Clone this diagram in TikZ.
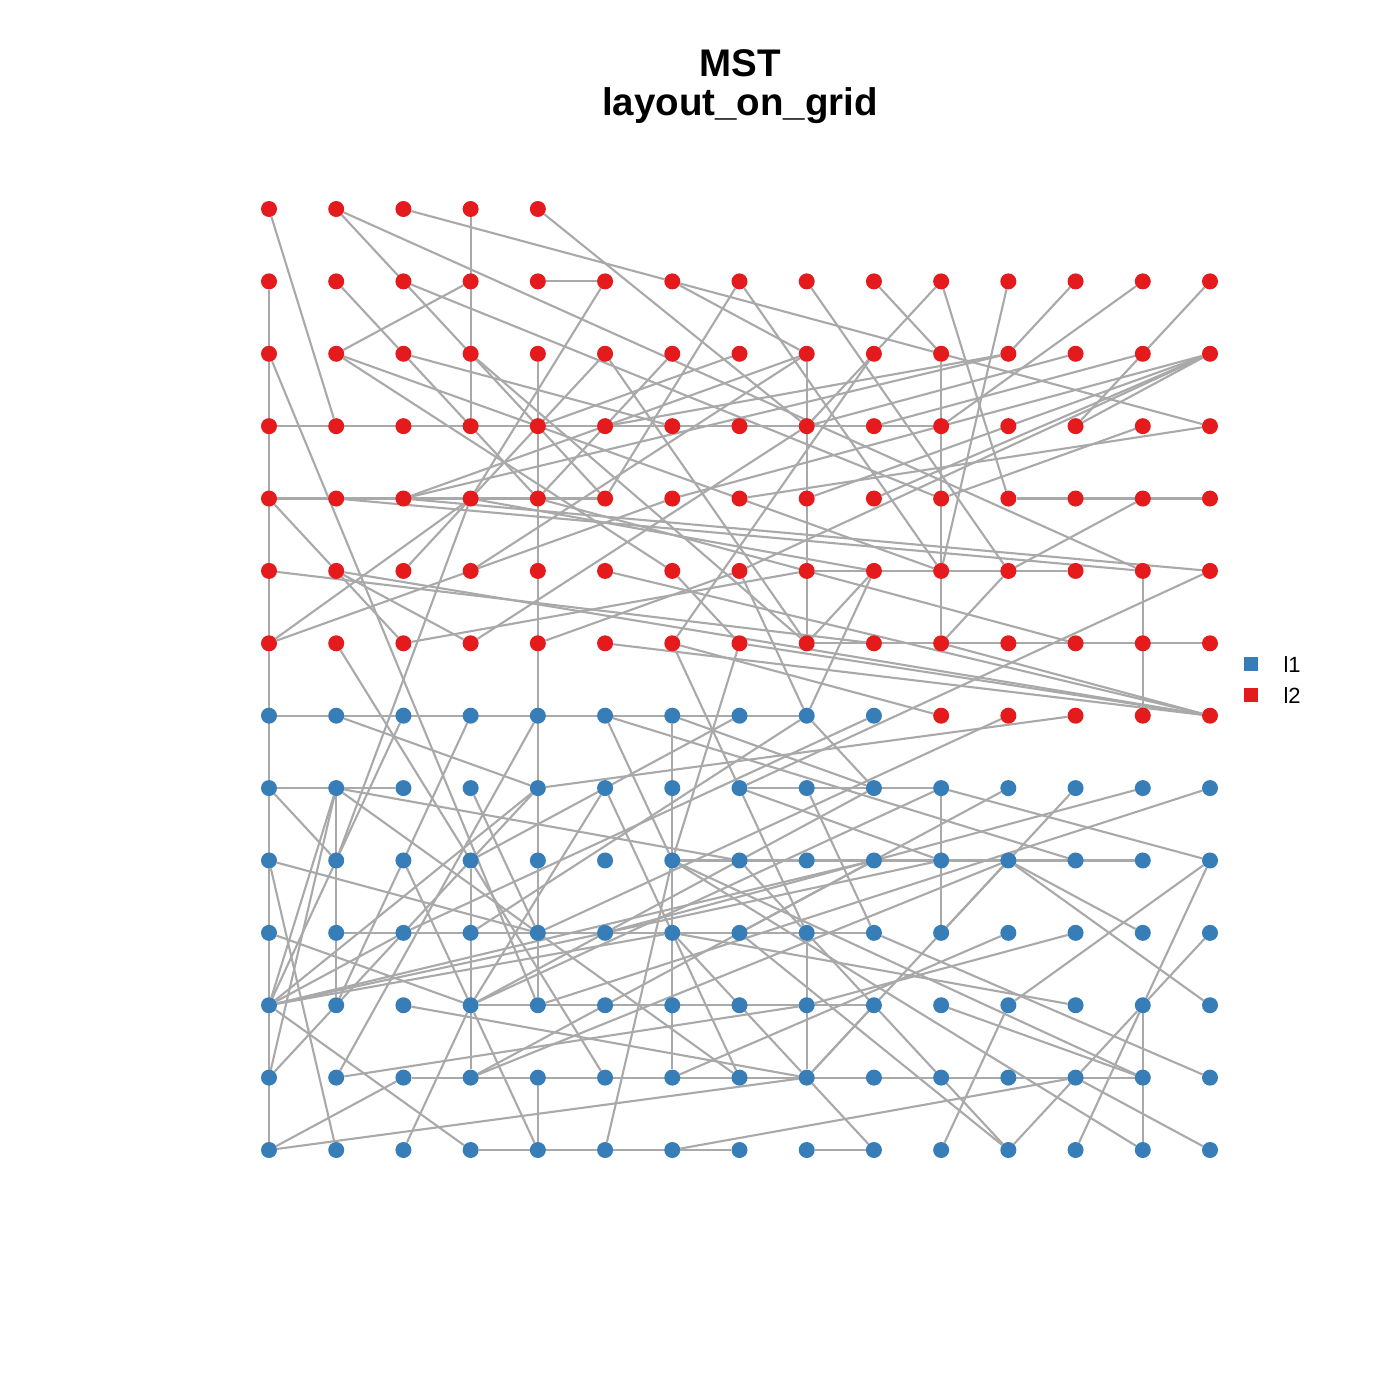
\documentclass[tikz,border=0pt]{standalone}
\usepackage{fontspec}
\setmainfont{Liberation Sans}
\definecolor{nred}{HTML}{E41A1C}
\definecolor{nblue}{HTML}{377EB8}
\definecolor{egray}{HTML}{A9A9A9}
\pgfdeclarelayer{bg}
\pgfdeclarelayer{edges}
\pgfsetlayers{bg,edges,main}
\tikzset{
  vred/.style={circle,fill=nred,draw=none,inner sep=0pt,minimum size=16pt},
  vblue/.style={circle,fill=nblue,draw=none,inner sep=0pt,minimum size=16pt},
  edge/.style={draw=egray,line width=2.1pt},
  ttl/.style={font=\bfseries\fontsize{38.5}{44}\selectfont,anchor=base},
  leg/.style={font=\fontsize{22}{26}\selectfont,anchor=west},
}
\begin{document}
\begin{tikzpicture}[x=1pt,y=-1pt]
\useasboundingbox (0,0) rectangle (1400,1400);
\begin{pgfonlayer}{bg}
\fill[white] (0,0) rectangle (1400,1400);
\end{pgfonlayer}
\node[ttl] (t1) at (740,76) {MST};
\node[ttl] (t2) at (740,115) {layout\_on\_grid};
% vertices
\foreach \c in {0,...,14}{
  \foreach \r in {0,...,13}{
    \pgfmathtruncatemacro\skipit{and(\r==0,\c>4)}
    \pgfmathtruncatemacro\isred{or(\r<7,and(\r==7,\c>9))}
    \pgfmathsetmacro\px{269+67.214*\c}
    \pgfmathsetmacro\py{209+72.385*\r}
    \ifnum\skipit=0
      \ifnum\isred=1
        \node[vred] (n\c-\r) at (\px,\py) {};
      \else
        \node[vblue] (n\c-\r) at (\px,\py) {};
      \fi
    \fi
  }
}
\begin{pgfonlayer}{edges}
% vertical runs: col/startrow/endrow
\foreach \c/\s/\e in {0/1/13, 3/0/3, 4/2/11, 4/12/13, 1/8/11, 3/9/12, 6/7/12, 8/2/6, 8/10/12, 10/2/6, 10/8/10, 13/5/7, 13/11/13}
  \draw[edge] (n\c-\s) -- (n\c-\e);
% horizontal runs: row/startcol/endcol
\foreach \r/\s/\e in {1/4/5, 3/0/10, 4/0/5, 4/11/14, 5/8/12, 6/8/14, 7/0/8, 8/0/2, 8/7/10, 9/6/13, 10/1/9, 11/3/9, 12/2/13, 13/3/7, 13/8/9}
  \draw[edge] (n\s-\r) -- (n\e-\r);
% other edges
\foreach \a/\b/\c/\d in {
0/0/1/3, 1/0/13/5, 1/0/5/4, 2/0/6/1, 6/1/14/3, 4/0/8/3, 1/1/2/2, 2/1/10/4, 3/1/1/2, 5/1/3/4, 6/1/8/2, 7/1/5/4, 7/1/10/5, 8/1/11/5, 9/1/10/2, 10/1/8/3, 10/1/11/4, 11/1/10/5, 12/1/11/2, 13/1/10/3, 14/1/12/3,
0/2/4/11, 1/2/10/5, 1/2/6/5, 2/2/6/3, 2/2/4/4, 5/2/8/6, 5/2/2/5, 6/2/4/4, 7/2/4/3, 9/2/6/6, 11/2/5/3, 12/2/8/3, 13/2/9/3, 14/2/12/3, 14/2/9/4, 14/2/8/4, 14/2/6/4, 14/2/7/5, 13/3/10/4,
1/4/13/5, 2/4/14/5, 2/4/8/2, 2/4/11/2, 3/4/0/6, 3/4/1/9, 3/4/9/5, 4/4/12/6, 6/4/0/6, 7/4/14/3, 13/4/11/5, 14/5/7/8,
0/4/1/5, 1/5/2/6, 1/5/3/6, 0/5/9/6, 1/5/14/7, 3/5/8/2, 2/6/8/5, 3/6/8/3, 4/6/7/5, 1/6/5/12, 6/5/7/6, 5/5/14/7, 5/6/14/7, 6/6/8/10, 7/6/6/9, 8/6/9/5, 3/2/8/6, 10/6/11/5, 6/6/10/7, 11/7/4/10, 12/7/4/8, 7/6/14/7, 10/6/14/7, 9/5/8/7,
1/7/4/8, 2/7/0/11, 1/12/4/7, 3/7/1/11, 0/8/1/9, 1/8/0/11, 1/8/0/12, 1/8/7/9, 1/8/7/12, 0/9/4/10, 2/9/3/11, 3/8/4/10, 0/11/4/8, 0/11/2/10, 0/11/6/10, 0/11/9/9, 0/11/10/9, 0/11/3/13, 0/12/4/8, 0/13/8/12, 0/13/2/12, 0/9/1/13, 2/13/3/11, 0/10/3/11, 1/12/8/11, 2/11/8/12, 4/13/3/11,
5/7/6/9, 5/7/12/9, 6/7/9/8, 7/7/3/9, 7/5/8/7, 8/7/9/8, 8/7/3/10, 9/7/2/10, 5/8/3/11, 5/8/7/12, 7/8/10/9, 8/8/9/10, 7/9/8/10, 10/8/14/9, 11/8/7/10, 12/8/10/10, 13/8/5/10, 14/8/4/11, 11/9/10/10, 11/9/13/10, 11/9/14/11, 14/9/13/11, 14/10/13/11, 14/9/11/11, 10/10/8/12, 11/10/6/12, 12/10/8/11, 10/11/13/12, 11/11/10/13, 6/10/12/11, 13/11/12/12, 13/11/12/13, 9/10/14/12, 12/12/11/13, 12/12/14/13, 5/13/6/9, 6/13/12/12, 8/12/9/11, 8/12/9/13, 6/10/8/12,
3/11/9/8, 3/11/10/8, 3/12/9/9, 3/12/11/9, 6/9/13/12, 7/10/11/13, 8/10/11/13, 6/9/13/13}
  \draw[edge] (n\a-\b) -- (n\c-\d);
\end{pgfonlayer}
% legend
\node[fill=nblue,minimum size=14pt,inner sep=0pt] (k1) at (1251,664) {};
\node[fill=nred,minimum size=14pt,inner sep=0pt] (k2) at (1251,695) {};
\node[leg] (l1) at (1280,665) {l1};
\node[leg] (l2) at (1280,696) {l2};
\end{tikzpicture}
\end{document}
